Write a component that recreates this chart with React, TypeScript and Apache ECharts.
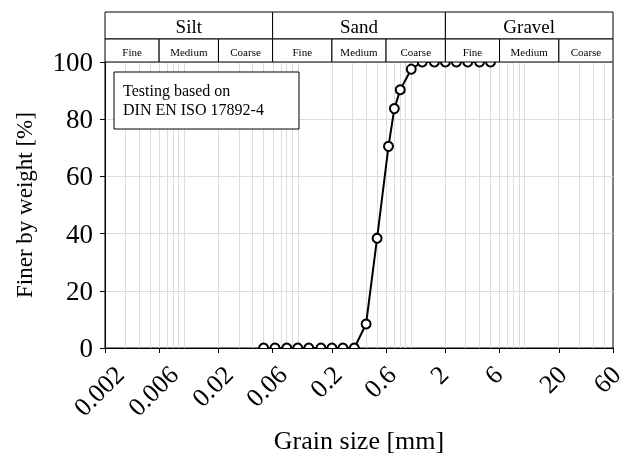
import React, { useEffect, useRef } from "react";
import * as echarts from "echarts";

// ---- data ----
const grainSizes = [0.05, 0.063, 0.08, 0.1, 0.125, 0.16, 0.2, 0.25, 0.315, 0.4, 0.5, 0.63, 0.71, 0.8, 1.0, 1.25, 1.6, 2.0, 2.5, 3.15, 4.0, 5.0];
const finerPercent = [0, 0, 0, 0, 0, 0, 0, 0, 0, 8.4, 38.4, 70.5, 83.7, 90.3, 97.5, 100, 100, 100, 100, 100, 100, 100];
const xTickValues = [0.002, 0.006, 0.02, 0.06, 0.2, 0.6, 2, 6, 20, 60];
const xTickLabels = ["0.002", "0.006", "0.02", "0.06", "0.2", "0.6", "2", "6", "20", "60"];
const xMin = 0.002;
const xMax = 60;
const gridDecades = [0.001, 0.01, 0.1, 1, 10];
const gridMultipliers = [1, 2, 3, 4, 5, 6, 7, 8, 9];
const soilGroups = ["Silt", "Sand", "Gravel"];
const groupBounds = [0.002, 0.06, 2, 60];
const subGroups = ["Fine", "Medium", "Coarse", "Fine", "Medium", "Coarse", "Fine", "Medium", "Coarse"];
const subBounds = [0.002, 0.006, 0.02, 0.06, 0.2, 0.6, 2, 6, 20, 60];
const noteLines = ["Testing based on", "DIN EN ISO 17892-4"];

const lg = (v: number) => Math.log10(v);
const FONT = "Liberation Serif";
const XTICK_FS = 26;
const YTICK_FS = 27;
const XLABEL_SHIFT = 6; // screen px to the left

// approximate text width in a Times-like font (digits 0.5em, dot 0.25em)
const approxWidth = (s: string, fs: number) =>
  s.split("").reduce((a, c) => a + (c === "." ? 0.25 : 0.5), 0) * fs;

export default function App() {
  const ref = useRef<HTMLDivElement>(null);
  useEffect(() => {
    if (!ref.current) return;
    const chart = echarts.init(ref.current, undefined, { renderer: "svg" });
    const pairs = grainSizes.map((g, i) => [lg(g), finerPercent[i]]);
    const minorGrid: number[] = [];
    gridDecades.forEach((d) =>
      gridMultipliers.forEach((m) => {
        const v = d * m;
        if (v >= xMin * 0.999 && v <= xMax * 1.001) minorGrid.push(v);
      })
    );
    const tickLogs = xTickValues.map(lg);
    const fmt = (v: number) => {
      const i = tickLogs.findIndex((t) => Math.abs(t - v) < 1e-6);
      return i >= 0 ? `{t${i}|${xTickLabels[i]}}` : "";
    };
    // rotated labels centred on their tick (matplotlib style)
    const rich: Record<string, any> = {};
    const sh = Math.SQRT2 * XLABEL_SHIFT;
    xTickLabels.forEach((s, i) => {
      const p = (approxWidth(s, XTICK_FS) + XTICK_FS) / 2;
      rich[`t${i}`] = {
        fontSize: XTICK_FS,
        fontFamily: FONT,
        color: "#000",
        padding: [Math.max(0, p - sh), p + sh, 0, 0],
      };
    });
    chart.setOption({
      animation: false,
      textStyle: { fontFamily: FONT },
      grid: {
        left: 105,
        right: 12,
        top: 62,
        bottom: 109,
        outerBoundsMode: "none",
        containLabel: false,
        show: true,
        borderColor: "#000",
        borderWidth: 1,
        backgroundColor: "transparent",
      },
      xAxis: {
        type: "value",
        min: lg(xMin),
        max: lg(xMax),
        axisLine: { show: true, onZero: false, lineStyle: { color: "#000", width: 1 } },
        axisTick: { show: true, customValues: tickLogs, length: 5, lineStyle: { color: "#000" } },
        axisLabel: {
          customValues: tickLogs,
          formatter: fmt,
          rotate: 45,
          align: "center",
          verticalAlign: "middle",
          fontSize: XTICK_FS,
          color: "#000",
          fontFamily: FONT,
          margin: 13,
          rich,
        },
        splitLine: { show: false },
        name: "Grain size [mm]",
        nameLocation: "middle",
        nameGap: 78,
        nameTextStyle: { fontSize: 26, color: "#000", fontFamily: FONT },
      },
      yAxis: {
        type: "value",
        min: 0,
        max: 100,
        interval: 20,
        axisLine: { show: true, onZero: false, lineStyle: { color: "#000", width: 1 } },
        axisTick: { show: true, length: 5, lineStyle: { color: "#000" } },
        axisLabel: { fontSize: YTICK_FS, color: "#000", fontFamily: FONT, margin: 12 },
        splitLine: { show: true, lineStyle: { color: "#dcdcdc", width: 1 } },
        name: "Finer by weight [%]",
        nameLocation: "middle",
        nameGap: 69,
        nameTextStyle: { fontSize: 23, color: "#000", fontFamily: FONT },
      },
      series: [
        {
          type: "line",
          data: pairs,
          symbol: "none",
          showSymbol: false,
          clip: true,
          z: 3,
          lineStyle: { color: "#000", width: 2 },
          silent: true,
          markLine: {
            silent: true,
            z: 1,
            symbol: ["none", "none"],
            label: { show: false },
            lineStyle: { color: "#dcdcdc", type: "solid", width: 1 },
            emphasis: { disabled: true },
            data: minorGrid.map((v) => ({ xAxis: lg(v) })),
          },
        },
        {
          type: "custom",
          data: pairs,
          clip: true,
          z: 4,
          silent: true,
          encode: { x: 0, y: 1 },
          renderItem: (params: any, api: any) => {
            const p = api.coord([api.value(0), api.value(1)]);
            return {
              type: "circle",
              shape: { cx: p[0], cy: p[1], r: 4.5 },
              style: { fill: "#fff", stroke: "#000", lineWidth: 2 },
            };
          },
        },
      ],
    });

    const px = (v: number) => chart.convertToPixel({ xAxisIndex: 0 }, lg(v)) as number;
    const plotTop = chart.convertToPixel({ yAxisIndex: 0 }, 100) as number;
    const plotLeft = px(xMin);
    const rowH2 = 23;
    const rowH1 = 27;
    const y2 = plotTop - rowH2;
    const y1 = y2 - rowH1;
    const graphics: any[] = [];
    soilGroups.forEach((name, i) => {
      const a = px(groupBounds[i]);
      const b = px(groupBounds[i + 1]);
      graphics.push({
        type: "rect",
        z: 10,
        shape: { x: a, y: y1, width: b - a, height: rowH1 },
        style: { fill: "#fff", stroke: "#000", lineWidth: 1 },
      });
      graphics.push({
        type: "text",
        z: 11,
        x: (a + b) / 2,
        y: y1 + rowH1 / 2 + 1,
        style: { text: name, fontSize: 19, fontFamily: FONT, fill: "#000", align: "center", verticalAlign: "middle" },
      });
    });
    subGroups.forEach((name, i) => {
      const a = px(subBounds[i]);
      const b = px(subBounds[i + 1]);
      graphics.push({
        type: "rect",
        z: 10,
        shape: { x: a, y: y2, width: b - a, height: rowH2 },
        style: { fill: "#fff", stroke: "#000", lineWidth: 1 },
      });
      graphics.push({
        type: "text",
        z: 11,
        x: (a + b) / 2,
        y: y2 + rowH2 / 2 + 1,
        style: { text: name, fontSize: 11, fontFamily: FONT, fill: "#000", align: "center", verticalAlign: "middle" },
      });
    });
    graphics.push({
      type: "rect",
      z: 10,
      shape: { x: plotLeft + 9, y: plotTop + 10, width: 185, height: 57 },
      style: { fill: "#fff", stroke: "#000", lineWidth: 1 },
    });
    graphics.push({
      type: "text",
      z: 11,
      x: plotLeft + 18,
      y: plotTop + 19,
      style: {
        text: noteLines.join("\n"),
        fontSize: 16,
        lineHeight: 19,
        fontFamily: FONT,
        fill: "#000",
        align: "left",
        verticalAlign: "top",
      },
    });
    chart.setOption({ graphic: graphics });

    return () => chart.dispose();
  }, []);
  return <div ref={ref} style={{ position: "fixed", left: 0, top: 0, width: 625, height: 457 }} />;
}
